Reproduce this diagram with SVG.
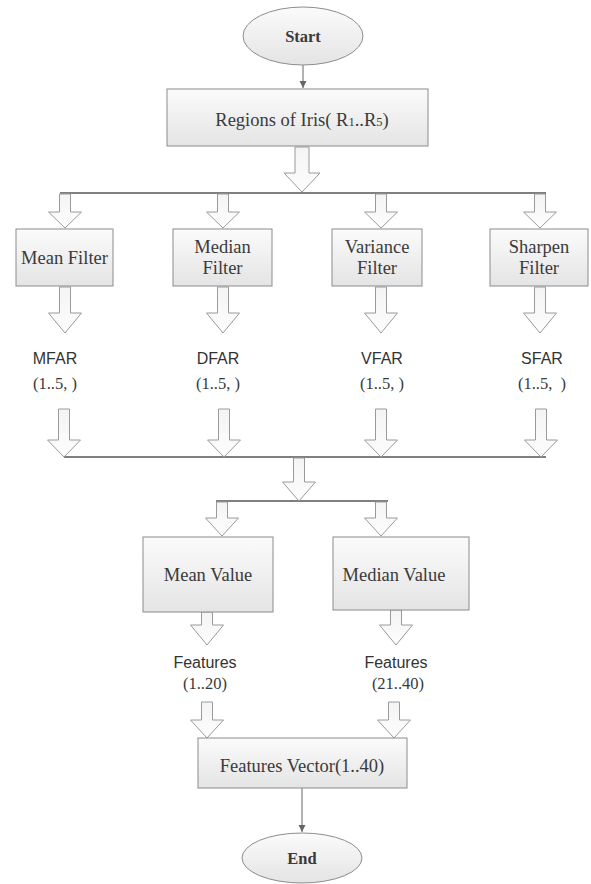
<svg xmlns="http://www.w3.org/2000/svg" width="591" height="884" viewBox="0 0 591 884">
<defs>
<linearGradient id="g" x1="0" y1="0" x2="0" y2="1">
<stop offset="0" stop-color="#fbfbfb"/>
<stop offset="1" stop-color="#e4e4e4"/>
</linearGradient>
<linearGradient id="ga" x1="0" y1="0" x2="0" y2="1">
<stop offset="0" stop-color="#f4f4f4"/>
<stop offset="1" stop-color="#fdfdfd"/>
</linearGradient>
<marker id="ah" markerWidth="8" markerHeight="8" refX="7" refY="4" orient="auto" markerUnits="userSpaceOnUse">
<path d="M0,0.5 L7,4 L0,7.5 Z" fill="#666"/>
</marker>
<style>
.box{fill:url(#g);stroke:#8c8c8c;stroke-width:1}
.blk{fill:url(#ga);stroke:#9a9a9a;stroke-width:1}
.ln{stroke:#555;stroke-width:1.3;fill:none}
.thin{stroke:#666;stroke-width:1;fill:none}
.t{font-family:"Liberation Serif","Times New Roman",serif;font-size:18.5px;fill:#3a3a3a;text-anchor:middle}
.tb{font-family:"Liberation Serif","Times New Roman",serif;font-size:16.5px;font-weight:bold;fill:#3a3a3a;text-anchor:middle}
.s{font-family:"Liberation Sans",Arial,sans-serif;font-size:16px;fill:#333;text-anchor:middle}
.sp{font-family:"Liberation Serif","Times New Roman",serif;font-size:16.5px;fill:#3a3a3a;text-anchor:middle}
</style>
</defs>
<rect width="591" height="884" fill="#fff"/>

<g id="connectors">
<line class="thin" x1="303" y1="65" x2="303" y2="88" marker-end="url(#ah)"/>
<line class="thin" x1="302" y1="788" x2="302" y2="832" marker-end="url(#ah)"/>
<line class="ln" x1="60" y1="193" x2="546" y2="193" stroke="#333"/>
<line class="ln" x1="64" y1="457" x2="546" y2="457"/>
<line class="ln" x1="216" y1="501" x2="388" y2="501"/>
<path class="blk" d="M295,147 L309,147 L309,173 L320,173 L302,192 L284,173 L295,173 Z"/>
<path class="blk" d="M59.5,194 L70.5,194 L70.5,212 L81.5,212 L65,228 L48.5,212 L59.5,212 Z"/>
<path class="blk" d="M217.5,194 L228.5,194 L228.5,212 L239.5,212 L223,228 L206.5,212 L217.5,212 Z"/>
<path class="blk" d="M375.5,194 L386.5,194 L386.5,212 L397.5,212 L381,228 L364.5,212 L375.5,212 Z"/>
<path class="blk" d="M534.5,194 L545.5,194 L545.5,212 L556.5,212 L540,228 L523.5,212 L534.5,212 Z"/>
<path class="blk" d="M59.5,287 L70.5,287 L70.5,313 L81.5,313 L65,333 L48.5,313 L59.5,313 Z"/>
<path class="blk" d="M217.5,287 L228.5,287 L228.5,313 L239.5,313 L223,333 L206.5,313 L217.5,313 Z"/>
<path class="blk" d="M375.5,287 L386.5,287 L386.5,313 L397.5,313 L381,333 L364.5,313 L375.5,313 Z"/>
<path class="blk" d="M534.5,287 L545.5,287 L545.5,313 L556.5,313 L540,333 L523.5,313 L534.5,313 Z"/>
<path class="blk" d="M58.5,409 L69.5,409 L69.5,440 L80.5,440 L64,457 L47.5,440 L58.5,440 Z"/>
<path class="blk" d="M218.5,409 L229.5,409 L229.5,440 L240.5,440 L224,457 L207.5,440 L218.5,440 Z"/>
<path class="blk" d="M375.5,409 L386.5,409 L386.5,440 L397.5,440 L381,457 L364.5,440 L375.5,440 Z"/>
<path class="blk" d="M535.5,409 L546.5,409 L546.5,440 L557.5,440 L541,457 L524.5,440 L535.5,440 Z"/>
<path class="blk" d="M293.5,458 L304.5,458 L304.5,482 L315.5,482 L299,501 L282.5,482 L293.5,482 Z"/>
<path class="blk" d="M216.5,502 L227.5,502 L227.5,518 L238.5,518 L222,536 L205.5,518 L216.5,518 Z"/>
<path class="blk" d="M375.5,502 L386.5,502 L386.5,518 L397.5,518 L381,536 L364.5,518 L375.5,518 Z"/>
<path class="blk" d="M201.5,612 L212.5,612 L212.5,625 L223.5,625 L207,645 L190.5,625 L201.5,625 Z"/>
<path class="blk" d="M390.5,610 L401.5,610 L401.5,625 L412.5,625 L396,645 L379.5,625 L390.5,625 Z"/>
<path class="blk" d="M201.5,702 L212.5,702 L212.5,720 L223.5,720 L207,738 L190.5,720 L201.5,720 Z"/>
<path class="blk" d="M388.5,702 L399.5,702 L399.5,720 L410.5,720 L394,738 L377.5,720 L388.5,720 Z"/>
</g>

<g id="start">
<ellipse class="box" cx="303" cy="36" rx="60" ry="29"/>
<text class="tb" x="303" y="42">Start</text>
</g>

<g id="regions">
<rect class="box" x="167" y="89" width="261" height="57"/>
<text class="t" x="302" y="126">Regions of Iris( R<tspan font-size="12.5">1</tspan>..R<tspan font-size="12.5">5</tspan>)</text>
</g>

<g id="mean-filter">
<rect class="box" x="16" y="229" width="97" height="57"/>
<text class="t" x="64.5" y="264">Mean Filter</text>
</g>

<g id="median-filter">
<rect class="box" x="173" y="229" width="99" height="57"/>
<text class="t" x="222.5" y="253">Median</text>
<text class="t" x="222.5" y="274">Filter</text>
</g>

<g id="variance-filter">
<rect class="box" x="332" y="229" width="90" height="57"/>
<text class="t" x="377" y="253">Variance</text>
<text class="t" x="377" y="274">Filter</text>
</g>

<g id="sharpen-filter">
<rect class="box" x="490" y="229" width="98" height="57"/>
<text class="t" x="539" y="253">Sharpen</text>
<text class="t" x="539" y="274">Filter</text>
</g>

<g id="mfar">
<text class="s" x="55" y="364">MFAR</text>
<text class="sp" x="55" y="389">(1..5, )</text>
</g>
<g id="dfar">
<text class="s" x="218" y="364">DFAR</text>
<text class="sp" x="218" y="389">(1..5, )</text>
</g>
<g id="vfar">
<text class="s" x="382" y="364">VFAR</text>
<text class="sp" x="382" y="389">(1..5, )</text>
</g>
<g id="sfar">
<text class="s" x="542" y="364">SFAR</text>
<text class="sp" x="542" y="389" xml:space="preserve">(1..5,  )</text>
</g>

<g id="mean-value">
<rect class="box" x="143" y="537" width="130" height="75"/>
<text class="t" x="208" y="581">Mean Value</text>
</g>

<g id="median-value">
<rect class="box" x="333" y="537" width="136" height="73"/>
<text class="t" x="394" y="581">Median Value</text>
</g>

<g id="features-1">
<text class="s" x="205" y="668" font-size="17">Features</text>
<text class="sp" x="205" y="689" font-size="17">(1..20)</text>
</g>
<g id="features-2">
<text class="s" x="396" y="668" font-size="17">Features</text>
<text class="sp" x="398" y="689" font-size="17">(21..40)</text>
</g>

<g id="features-vector">
<rect class="box" x="198" y="738" width="209" height="50"/>
<text class="t" x="302" y="772">Features Vector(1..40)</text>
</g>

<g id="end">
<ellipse class="box" cx="302" cy="858" rx="60" ry="25"/>
<text class="tb" x="302" y="864">End</text>
</g>
</svg>
